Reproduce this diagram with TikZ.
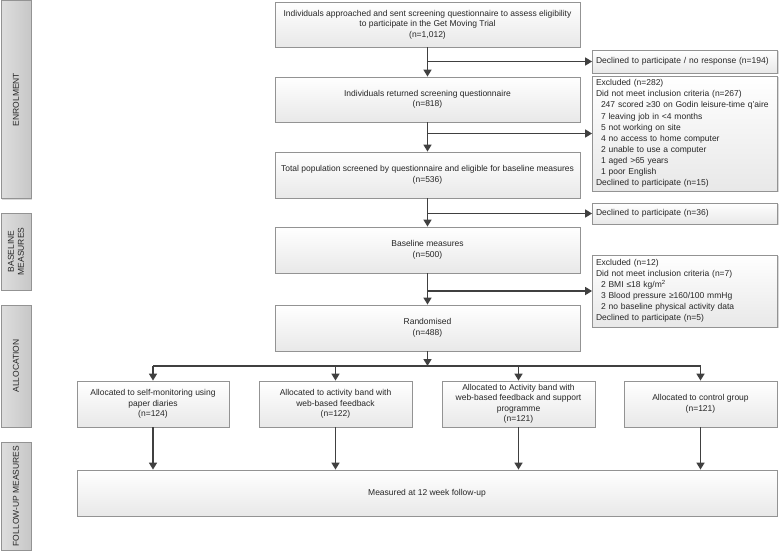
\documentclass[tikz,border=0pt]{standalone}
\usepackage{fontspec}
\setmainfont{Liberation Sans}
\usetikzlibrary{arrows.meta,shadows,calc}

\definecolor{boxline}{HTML}{939393}
\definecolor{arrowgray}{HTML}{404040}

\begin{document}
\begin{tikzpicture}[x=1pt,y=-1pt,
  font=\fontsize{8.5}{10.5}\selectfont,
  box/.style={draw=boxline,line width=0.8pt,top color=white,bottom color=black!9,
    drop shadow={opacity=0.3,shadow xshift=1.2pt,shadow yshift=-1.2pt},
    align=center,inner sep=2pt,text=black!85},
  sidebox/.style={box,align=left,inner xsep=3.5pt,text width=178pt,
    font=\fontsize{8.5}{11.1}\selectfont},
  stage/.style={draw=boxline,line width=0.8pt,left color=black!13,right color=black!22,
    drop shadow={opacity=0.3,shadow xshift=1.2pt,shadow yshift=-1.2pt},
    rotate=90,minimum height=30pt,align=center,text=black!85,
    font=\fontsize{8.5}{10}\selectfont},
  arr/.style={draw=arrowgray,line width=1.6pt,-{Triangle[length=7pt,width=8pt]}},
  line/.style={draw=arrowgray,line width=1.6pt}]
  \useasboundingbox (0,0) rectangle (779,552);

  % stages on the left
  \node[stage,minimum width=198pt] (enrol) at (16,99.5) {ENROLMENT};
  \node[stage,minimum width=77pt] (basel) at (16,251.5) {BASELINE\\MEASURES};
  \node[stage,minimum width=122pt] (alloc) at (16,366) {ALLOCATION};
  \node[stage,minimum width=108pt] (follow) at (16,496) {FOLLOW-UP MEASURES};

  % main column
  \node[box,minimum width=305pt,minimum height=45pt] (approach) at (427.5,24.5)
    {Individuals approached and sent screening questionnaire to assess eligibility\\to participate in the Get Moving Trial\\(n=1,012)};
  \node[box,minimum width=305pt,minimum height=45pt] (returned) at (427.5,99.5)
    {Individuals returned screening questionnaire\\(n=818)};
  \node[box,minimum width=305pt,minimum height=46pt] (screened) at (427.5,175)
    {Total population screened by questionnaire and eligible for baseline measures\\(n=536)};
  \node[box,minimum width=305pt,minimum height=46pt] (baseline) at (427.5,250)
    {Baseline measures\\(n=500)};
  \node[box,minimum width=305pt,minimum height=46pt] (random) at (427.5,328)
    {Randomised\\(n=488)};

  % exclusions on the right
  \node[sidebox,minimum height=23pt] (declined1) at (685,61.5)
    {Declined to participate / no response (n=194)};
  \node[sidebox,minimum height=115pt] (excluded1) at (685,133.5)
    {Excluded (n=282)\\
     Did not meet inclusion criteria (n=267)\\
     \hspace*{5pt}247 scored ≥30 on Godin leisure-time q'aire\\
     \hspace*{5pt}7 leaving job in <4 months\\
     \hspace*{5pt}5 not working on site\\
     \hspace*{5pt}4 no access to home computer\\
     \hspace*{5pt}2 unable to use a computer\\
     \hspace*{5pt}1 aged >65 years\\
     \hspace*{5pt}1 poor English\\
     Declined to participate (n=15)};
  \node[sidebox,minimum height=21pt] (declined2) at (685,213.5)
    {Declined to participate (n=36)};
  \node[sidebox,minimum height=72pt] (excluded2) at (685,291)
    {Excluded (n=12)\\
     Did not meet inclusion criteria (n=7)\\
     \hspace*{5pt}2 BMI ≤18 kg/m\textsuperscript{2}\\
     \hspace*{5pt}3 Blood pressure ≥160/100 mmHg\\
     \hspace*{5pt}2 no baseline physical activity data\\
     Declined to participate (n=5)};

  % allocation groups
  \node[box,minimum width=152pt,minimum height=46pt] (selfmon) at (153,404)
    {Allocated to self-monitoring using\\paper diaries\\(n=124)};
  \node[box,minimum width=153pt,minimum height=46pt] (bandweb) at (335.5,404)
    {Allocated to activity band with\\web-based feedback\\(n=122)};
  \node[box,minimum width=153pt,minimum height=46pt] (bandsupp) at (518.5,404)
    {Allocated to Activity band with\\web-based feedback and support\\programme\\(n=121)};
  \node[box,minimum width=153pt,minimum height=46pt] (control) at (700.5,404)
    {Allocated to control group\\(n=121)};

  \node[box,minimum width=700pt,minimum height=46pt] (followup) at (427,493)
    {Measured at 12 week follow-up};

  % connectors
  \draw[arr] (approach) -- (returned);
  \draw[arr] (returned) -- (screened);
  \draw[arr] (screened) -- (baseline);
  \draw[arr] (baseline) -- (random);
  \draw[arr] (approach.south |- declined1.west) -- (declined1.west);
  \draw[arr] (returned.south |- excluded1.west) -- (excluded1.west);
  \draw[arr] (screened.south |- declined2.west) -- (declined2.west);
  \draw[arr] (baseline.south |- excluded2.west) -- (excluded2.west);

  \coordinate (split) at (427.5,366);
  \draw[arr] (random) -- (split);
  \draw[line] (split -| selfmon) -- (split -| control);
  \foreach \grp in {selfmon,bandweb,bandsupp,control}{
    \draw[arr] (split -| \grp) -- (\grp);
    \draw[arr] (\grp) -- (\grp |- followup.north);
  }
\end{tikzpicture}
\end{document}
